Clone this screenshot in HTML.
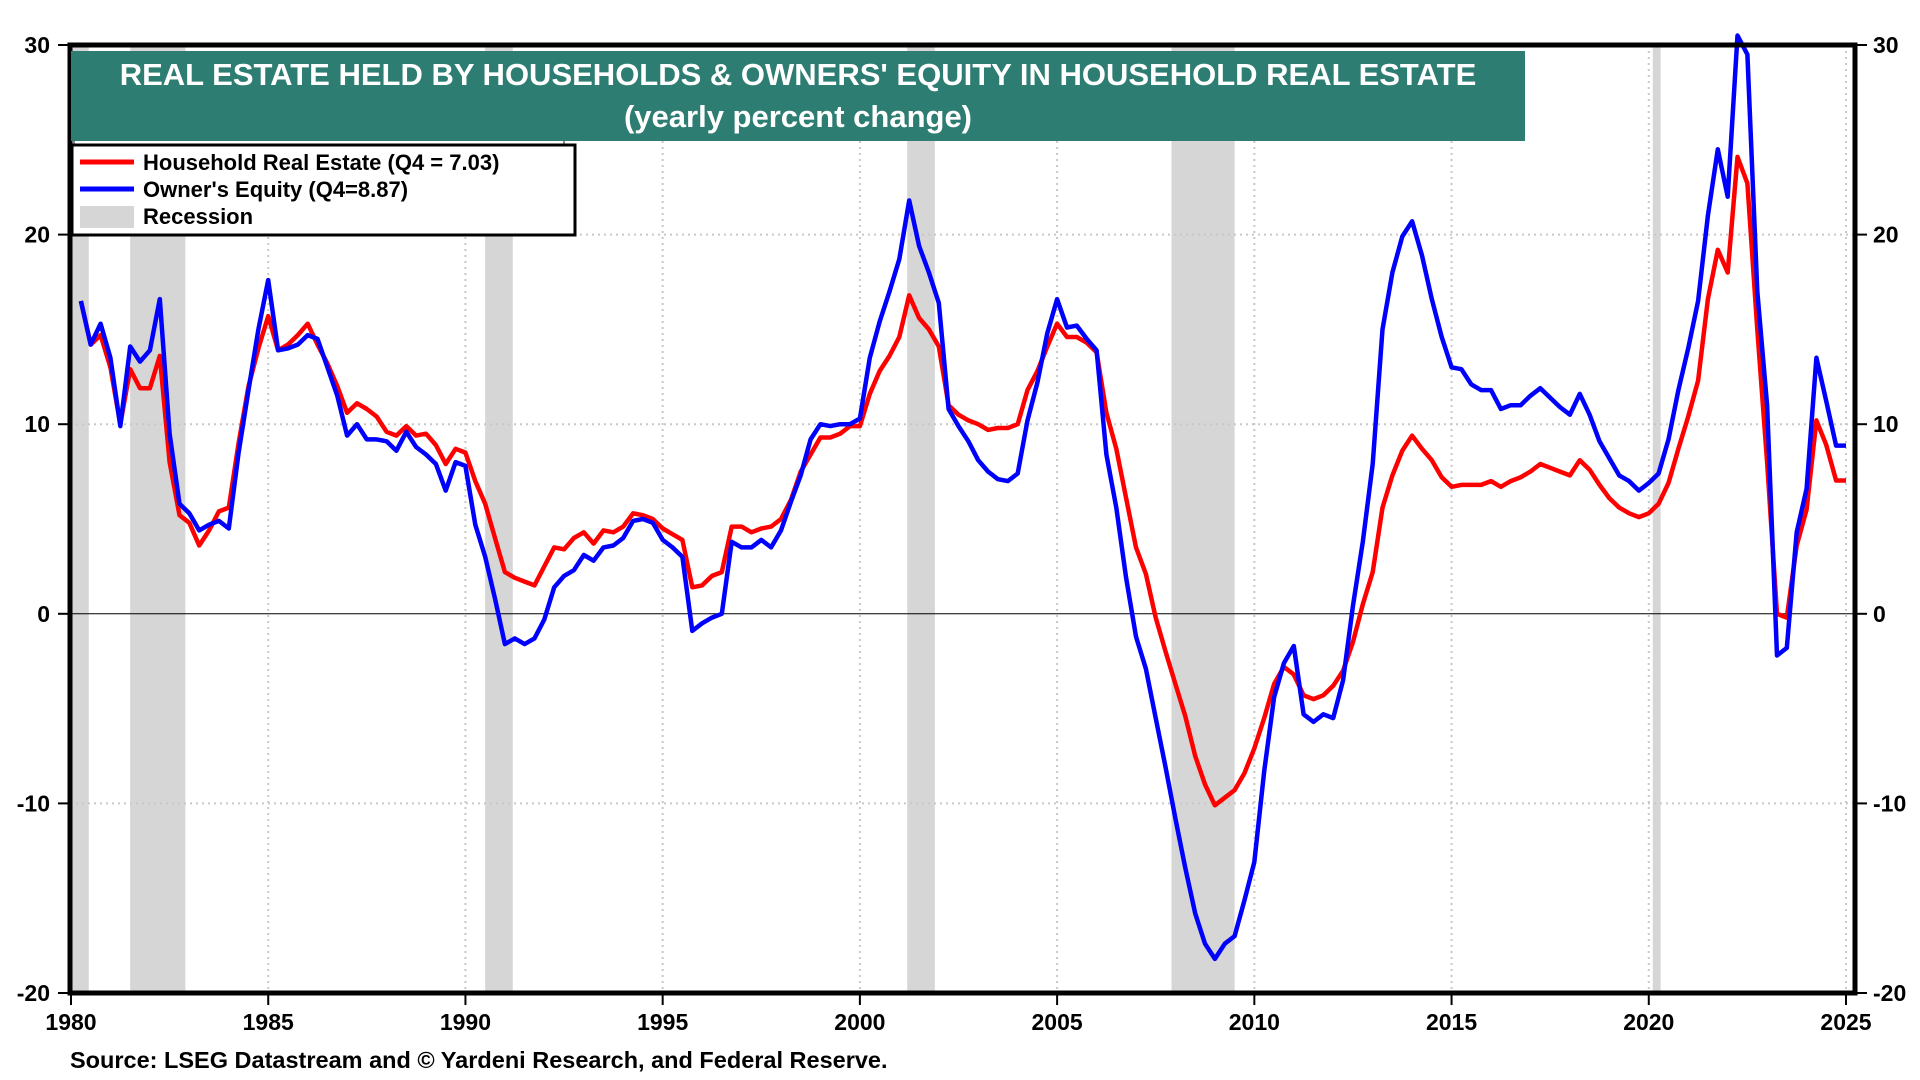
<!DOCTYPE html>
<html><head><meta charset="utf-8"><style>
html,body{margin:0;padding:0;background:#fff;}
svg{display:block;font-family:"Liberation Sans",Arial,sans-serif;}
</style></head><body>
<svg id="chart" width="1920" height="1080" viewBox="0 0 1920 1080"></svg>
<script>
const startYear = 1980.25;
const household = [16.5,14.2,14.7,13,10,12.9,11.9,11.9,13.6,8,5.2,4.8,3.6,4.4,5.4,5.6,9,12,14,15.7,13.9,14.2,14.7,15.3,14.2,13.2,12,10.6,11.1,10.8,10.4,9.6,9.4,9.9,9.4,9.5,8.9,7.9,8.7,8.5,7,5.8,4,2.2,1.9,1.7,1.5,2.5,3.5,3.4,4,4.3,3.7,4.4,4.3,4.6,5.3,5.2,5,4.5,4.2,3.9,1.4,1.5,2,2.2,4.6,4.6,4.3,4.5,4.6,5,6,7.5,8.4,9.3,9.3,9.5,9.9,9.9,11.6,12.8,13.6,14.6,16.8,15.6,15,14.1,11,10.5,10.2,10,9.7,9.8,9.8,10,11.8,12.8,14.1,15.3,14.6,14.6,14.3,13.8,10.6,8.7,6.1,3.5,2.1,-0.2,-2,-3.7,-5.4,-7.5,-9,-10.1,-9.7,-9.3,-8.4,-7.1,-5.5,-3.7,-2.8,-3.2,-4.3,-4.5,-4.3,-3.8,-3,-1.5,0.5,2.2,5.6,7.3,8.6,9.4,8.7,8.1,7.2,6.7,6.8,6.8,6.8,7,6.7,7,7.2,7.5,7.9,7.7,7.5,7.3,8.1,7.6,6.8,6.1,5.6,5.3,5.1,5.3,5.8,6.9,8.7,10.4,12.3,16.6,19.2,18,24.1,22.7,15,8,0,-0.2,3.6,5.5,10.2,8.9,7.03,7.03];
const equity = [16.5,14.2,15.3,13.5,9.9,14.1,13.3,13.9,16.6,9.5,5.8,5.3,4.4,4.7,4.9,4.5,8.5,11.8,15,17.6,13.9,14,14.2,14.7,14.5,13,11.5,9.4,10,9.2,9.2,9.1,8.6,9.6,8.8,8.4,7.9,6.5,8,7.8,4.7,3,0.8,-1.6,-1.3,-1.6,-1.3,-0.3,1.4,2,2.3,3.1,2.8,3.5,3.6,4,4.9,5,4.8,3.9,3.5,3,-0.9,-0.5,-0.2,0,3.8,3.5,3.5,3.9,3.5,4.4,5.9,7.3,9.2,10,9.9,10,10,10.3,13.5,15.4,17,18.7,21.8,19.4,18,16.4,10.8,9.9,9.1,8.1,7.5,7.1,7,7.4,10.2,12.2,14.8,16.6,15.1,15.2,14.5,13.9,8.4,5.6,1.9,-1.2,-2.9,-5.5,-8.1,-10.8,-13.4,-15.8,-17.4,-18.2,-17.4,-17,-15.1,-13.1,-8.3,-4.4,-2.6,-1.7,-5.3,-5.7,-5.3,-5.5,-3.5,0.4,3.8,7.9,15,18,19.9,20.7,18.9,16.6,14.6,13,12.9,12.1,11.8,11.8,10.8,11,11,11.5,11.9,11.4,10.9,10.5,11.6,10.5,9.1,8.2,7.3,7,6.5,6.9,7.4,9.2,11.8,14,16.5,21,24.5,22,30.5,29.5,17,11,-2.2,-1.8,4.3,6.6,13.5,11.2,8.87,8.87];
const recessionStarts = [1980.0,1981.5,1990.5,2001.2,2007.9,2020.1];
const recessionEnds = [1980.45,1982.9,1991.2,2001.9,2009.5,2020.3];
const yTicks = [30,20,10,0,-10,-20];
const xTicks = [1980,1985,1990,1995,2000,2005,2010,2015,2020,2025];

const NS="http://www.w3.org/2000/svg";
const svg=document.getElementById('chart');
const L=70,R=1855,T=45,B=993;
const X=y=>71+(y-1980)*(1846-71)/45;
const Y=v=>T+(30-v)*(B-T)/50;
function mk(tag,attrs,parent){const e=document.createElementNS(NS,tag);for(const k in attrs)e.setAttribute(k,attrs[k]);(parent||svg).appendChild(e);return e;}

const gRec=mk('g',{});


recessionStarts.forEach((s,i)=>{
  const r=mk('rect',{x:X(s),y:T,width:X(recessionEnds[i])-X(s),height:B-T,fill:'#d6d6d6'},gRec);
  
  
});
const gGrid=mk('g',{});


yTicks.forEach(v=>{
  if(v===30||v===-20)return;
  if(v===0){const l=mk('line',{x1:L,x2:R,y1:Y(0),y2:Y(0),stroke:'#000','stroke-width':1},gGrid);return;}
  const l=mk('line',{x1:L,x2:R,y1:Y(v),y2:Y(v),stroke:'#c8c8c8','stroke-width':2,'stroke-dasharray':'2,4'},gGrid);
  
  
});
xTicks.forEach(t=>{
  if(t===1980)return;
  const l=mk('line',{x1:X(t),x2:X(t),y1:T,y2:B,stroke:'#c8c8c8','stroke-width':2,'stroke-dasharray':'2,4'},gGrid);
  
  
});
function line(data,color,name){
  const pts=data.map((v,i)=>X(startYear+i*0.25).toFixed(1)+','+Y(v).toFixed(1)).join(' ');
  const p=mk('polyline',{points:pts,fill:'none',stroke:color,'stroke-width':4.5,'stroke-linejoin':'round'});
  
  
}
line(household,'#ff0000','household-real-estate-line');
line(equity,'#0000ff','owners-equity-line');

const frame=mk('rect',{x:L,y:T,width:R-L,height:B-T,fill:'none',stroke:'#000','stroke-width':5});


yTicks.forEach(v=>{
  mk('line',{x1:L-12,x2:L,y1:Y(v),y2:Y(v),stroke:'#000','stroke-width':2});
  mk('line',{x1:R,x2:R+12,y1:Y(v),y2:Y(v),stroke:'#000','stroke-width':2});
  const a=mk('text',{x:L-20,y:Y(v)+8,'text-anchor':'end','font-size':23,'font-weight':'bold'});a.textContent=v;
  
  
  const b=mk('text',{x:R+18,y:Y(v)+8,'font-size':23,'font-weight':'bold'});b.textContent=v;
  
  
});
xTicks.forEach(t=>{
  mk('line',{x1:X(t),x2:X(t),y1:B,y2:B+12,stroke:'#000','stroke-width':2});
  const a=mk('text',{x:X(t),y:B+37,'text-anchor':'middle','font-size':23,'font-weight':'bold'});a.textContent=t;
  
  
});
</script>
<svg style="position:absolute;left:0;top:0" width="1920" height="1080">
  <g>
    <rect x="74" y="138" width="490" height="14" fill="#fff" stroke="#888" stroke-width="2"/>
    <rect x="72" y="145" width="503" height="90" fill="#fff" stroke="#000" stroke-width="3"/>
    <line x1="80" y1="162" x2="134" y2="162" stroke="#ff0000" stroke-width="5"/>
    <text x="143" y="170" font-size="22" font-weight="bold" font-family="Liberation Sans, Arial, sans-serif">Household Real Estate (Q4 = 7.03)</text>
    <line x1="80" y1="189" x2="134" y2="189" stroke="#0000ff" stroke-width="5"/>
    <text x="143" y="197" font-size="22" font-weight="bold" font-family="Liberation Sans, Arial, sans-serif">Owner's Equity (Q4=8.87)</text>
    <rect x="80" y="206" width="54" height="22" fill="#d6d6d6"/>
    <text x="143" y="224" font-size="22" font-weight="bold" font-family="Liberation Sans, Arial, sans-serif">Recession</text>
  </g>
  <g>
    <rect x="71" y="51" width="1454" height="90" fill="#2e7d72"/>
    <text x="798" y="85" text-anchor="middle" fill="#fff" font-size="31" font-weight="bold" font-family="Liberation Sans, Arial, sans-serif">REAL ESTATE HELD BY HOUSEHOLDS &amp; OWNERS' EQUITY IN HOUSEHOLD REAL ESTATE</text>
    <text x="798" y="127" text-anchor="middle" fill="#fff" font-size="31" font-weight="bold" font-family="Liberation Sans, Arial, sans-serif">(yearly percent change)</text>
  </g>
  <text x="70" y="1068" font-size="23.5" font-weight="bold" font-family="Liberation Sans, Arial, sans-serif">Source: LSEG Datastream and © Yardeni Research, and Federal Reserve.</text>
</svg>
</body></html>
